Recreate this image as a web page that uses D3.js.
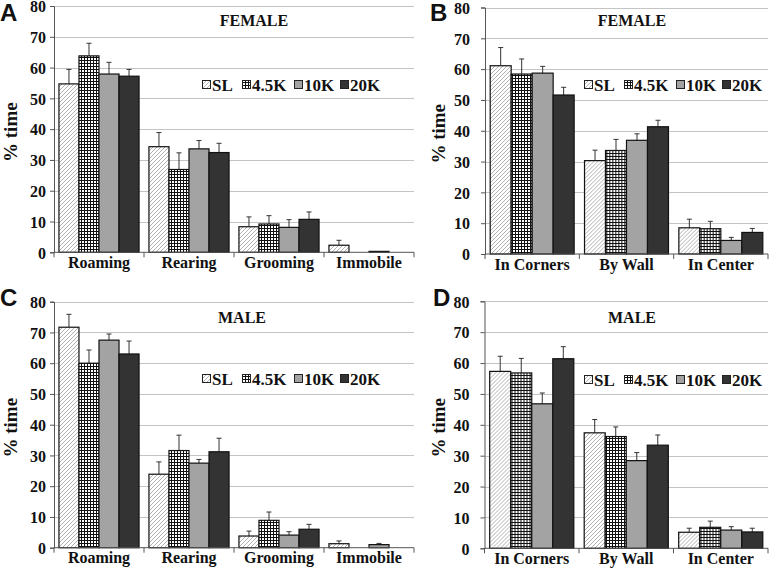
<!DOCTYPE html>
<html>
<head>
<meta charset="utf-8">
<script src="https://cdn.jsdelivr.net/npm/d3@7"></script>
<style>
  html, body { margin: 0; padding: 0; background: #fff; }
  svg { display: block; }
  text { font-family: "Liberation Serif", "Times New Roman", serif; font-weight: bold; fill: #111; }
</style>
</head>
<body>
<svg id="chart" width="771" height="569"></svg>
<script>
// ---------------- DATA ----------------
const seriesNames = ["SL", "4.5K", "10K", "20K"];
const behaviourCats = ["Roaming", "Rearing", "Grooming", "Immobile"];
const locationCats = ["In Corners", "By Wall", "In Center"];
const yTickValues = [0, 10, 20, 30, 40, 50, 60, 70, 80];

// rows = categories, columns = series (SL, 4.5K, 10K, 20K)
const femaleBehaviourMeans = [[54.7, 63.8, 57.9, 57.2], [34.3, 26.9, 33.6, 32.4], [8.3, 9.2, 8.1, 10.7], [2.3, 0, 0.3, 0]];
const femaleBehaviourErrs  = [[4.7, 4.1, 3.8, 2.2], [4.6, 5.4, 2.7, 3.0], [3.2, 2.7, 2.5, 2.4], [1.6, 0, 0, 0]];
const femaleLocationMeans  = [[61.1, 58.4, 58.7, 51.6], [30.3, 33.6, 36.9, 41.3], [8.5, 8.2, 4.4, 7.0]];
const femaleLocationErrs   = [[5.9, 4.9, 2.2, 2.5], [3.4, 3.6, 2.1, 2.1], [2.8, 2.4, 1.0, 1.3]];
const maleBehaviourMeans   = [[71.7, 60.0, 67.5, 63.0], [23.9, 31.6, 27.5, 31.2], [3.8, 8.9, 4.1, 6.0], [1.3, 0, 1.0, 0]];
const maleBehaviourErrs    = [[4.2, 4.3, 2.0, 4.2], [4.0, 5.0, 1.2, 4.4], [1.6, 2.7, 1.1, 1.6], [0.9, 0, 0.4, 0]];
const maleLocationMeans    = [[57.3, 56.8, 46.8, 61.4], [37.4, 36.2, 28.4, 33.4], [5.2, 6.8, 5.9, 5.3]];
const maleLocationErrs     = [[4.9, 4.7, 3.5, 3.9], [4.3, 3.1, 2.6, 3.3], [1.3, 2.0, 1.1, 1.2]];

const panelLetters = ["A", "B", "C", "D"];
const panelTitles = ["FEMALE", "FEMALE", "MALE", "MALE"];
const yAxisTitle = "% time";

// ---------------- LAYOUT ----------------
const panels = [
  { letter: panelLetters[0], title: panelTitles[0], cats: behaviourCats, means: femaleBehaviourMeans, errs: femaleBehaviourErrs,
    x0: 54, x1: 414, yZero: 252.3, yTop: 6, letterX: 0, letterY: 21, titleX: 254, titleY: 26, legendX: 202, legendY: 85, ylabX: 12, tickGap: 6 },
  { letter: panelLetters[1], title: panelTitles[1], cats: locationCats, means: femaleLocationMeans, errs: femaleLocationErrs,
    x0: 485, x1: 768, yZero: 254, yTop: 7.5, letterX: 430, letterY: 21, titleX: 632, titleY: 26, legendX: 584, legendY: 85, ylabX: 440, tickGap: 13 },
  { letter: panelLetters[2], title: panelTitles[2], cats: behaviourCats, means: maleBehaviourMeans, errs: maleBehaviourErrs,
    x0: 54, x1: 414, yZero: 547.7, yTop: 301.7, letterX: 0, letterY: 306, titleX: 242, titleY: 323, legendX: 202, legendY: 379, ylabX: 12, tickGap: 6 },
  { letter: panelLetters[3], title: panelTitles[3], cats: locationCats, means: maleLocationMeans, errs: maleLocationErrs,
    x0: 484.5, x1: 768, yZero: 548.3, yTop: 301.3, letterX: 433, letterY: 306, titleX: 632, titleY: 323, legendX: 584, legendY: 380, ylabX: 440, tickGap: 13 }
];

const svg = d3.select("#chart");
const defs = svg.append("defs");

// SL: diagonal light hatch
const pSL = defs.append("pattern").attr("id", "pat-SL").attr("patternUnits", "userSpaceOnUse")
  .attr("width", 4).attr("height", 4);
pSL.append("rect").attr("width", 4).attr("height", 4).attr("fill", "#fff");
pSL.append("path").attr("d", "M-1,1 L1,-1 M0,4 L4,0 M3,5 L5,3").attr("stroke", "#a8a8a8").attr("stroke-width", 0.9);

// 4.5K: black grid with white squares
const p45 = defs.append("pattern").attr("id", "pat-45").attr("patternUnits", "userSpaceOnUse")
  .attr("width", 3).attr("height", 3);
p45.append("rect").attr("width", 3).attr("height", 3).attr("fill", "#111");
p45.append("rect").attr("x", 1).attr("y", 1).attr("width", 2).attr("height", 2).attr("fill", "#fff");

const seriesFill = d3.scaleOrdinal().domain(seriesNames)
  .range(["url(#pat-SL)", "url(#pat-45)", "#a3a3a3", "#333333"]);

panels.forEach(p => {
  const g = svg.append("g");
  const y = d3.scaleLinear().domain([0, 80]).range([p.yZero, p.yTop]);
  const x = d3.scaleBand().domain(p.cats).range([p.x0, p.x1]).padding(0);
  const bw = x.bandwidth();
  const pad = bw * 0.055;
  const xs = d3.scaleBand().domain(seriesNames).range([pad, bw - pad]).padding(0);

  // gridlines
  g.append("g").selectAll("line").data(yTickValues.filter(v => v > 0)).join("line")
    .attr("x1", p.x0).attr("x2", p.x1)
    .attr("y1", d => Math.round(y(d)) + 0.5).attr("y2", d => Math.round(y(d)) + 0.5)
    .attr("stroke", "#c4c4c4").attr("stroke-width", 1);

  // y axis
  const yAxis = d3.axisLeft(y).tickValues(yTickValues).tickSize(4).tickPadding(p.tickGap - 2).tickFormat(d3.format("d"));
  const ya = g.append("g").attr("transform", `translate(${p.x0},0)`).call(yAxis);
  ya.select(".domain").attr("stroke", "#555");
  ya.selectAll(".tick line").attr("stroke", "#555");
  ya.selectAll("text").style("font-size", "16px").style("font-family", "Liberation Serif, serif").style("font-weight", "bold")
    .attr("fill", "#111").attr("dy", "0.36em");

  // bars
  p.cats.forEach((cat, ci) => {
    const cg = g.append("g").attr("transform", `translate(${x(cat)},0)`);
    const rows = seriesNames.map((s, si) => ({ s, v: p.means[ci][si], e: p.errs[ci][si] }));
    const eb = rows.filter(d => d.e > 0);
    cg.selectAll("line.err").data(eb).join("line").attr("class", "err")
      .attr("x1", d => xs(d.s) + xs.bandwidth() / 2).attr("x2", d => xs(d.s) + xs.bandwidth() / 2)
      .attr("y1", d => y(d.v)).attr("y2", d => y(d.v + d.e))
      .attr("stroke", "#333").attr("stroke-width", 1);
    cg.selectAll("line.cap").data(eb).join("line").attr("class", "cap")
      .attr("x1", d => xs(d.s) + xs.bandwidth() / 2 - 2.5).attr("x2", d => xs(d.s) + xs.bandwidth() / 2 + 2.5)
      .attr("y1", d => y(d.v + d.e)).attr("y2", d => y(d.v + d.e))
      .attr("stroke", "#333").attr("stroke-width", 1);
    cg.selectAll("rect").data(rows.filter(d => d.v > 0)).join("rect")
      .attr("x", d => xs(d.s)).attr("width", xs.bandwidth())
      .attr("y", d => y(d.v)).attr("height", d => y(0) - y(d.v))
      .attr("fill", d => seriesFill(d.s))
      .attr("stroke", "#111").attr("stroke-width", 1.2);
  });

  // x axis
  const xa = g.append("g").attr("transform", `translate(0,${p.yZero})`);
  xa.append("line").attr("x1", p.x0).attr("x2", p.x1).attr("stroke", "#555").attr("stroke-width", 1);
  const bounds = p.cats.map(c => x(c)).concat([p.x1]);
  xa.selectAll("line.tk").data(bounds).join("line").attr("class", "tk")
    .attr("x1", d => d).attr("x2", d => d).attr("y1", 0).attr("y2", 5)
    .attr("stroke", "#555");
  xa.selectAll("text").data(p.cats).join("text")
    .attr("x", d => x(d) + bw / 2).attr("y", 15.5)
    .attr("text-anchor", "middle").style("font-size", "16px").text(d => d);

  // y axis title
  g.append("text")
    .attr("transform", `translate(${p.ylabX + 5},${(p.yZero + p.yTop) / 2 + 3}) rotate(-90)`)
    .attr("text-anchor", "middle").style("font-size", "19px").text(yAxisTitle);

  // panel title
  g.append("text").attr("x", p.titleX).attr("y", p.titleY).attr("text-anchor", "middle")
    .style("font-size", "16px").text(p.title);

  // panel letter
  g.append("text").attr("x", p.letterX).attr("y", p.letterY)
    .style("font-family", "Liberation Sans, Arial, sans-serif").style("font-size", "24px").attr("fill", "#000")
    .text(p.letter);

  // legend
  const legendOffsets = [0, 40, 92, 138];
  const lg = g.append("g").attr("transform", `translate(${p.legendX},${p.legendY})`);
  const items = lg.selectAll("g").data(seriesNames).join("g")
    .attr("transform", (d, i) => `translate(${legendOffsets[i]},0)`);
  items.append("rect").attr("x", 0.5).attr("y", -4.5).attr("width", 8).attr("height", 8)
    .attr("fill", d => seriesFill(d)).attr("stroke", "#222").attr("stroke-width", 1);
  items.append("text").attr("x", 10).attr("y", 6).style("font-size", "17px").text(d => d);
});
</script>
</body>
</html>
